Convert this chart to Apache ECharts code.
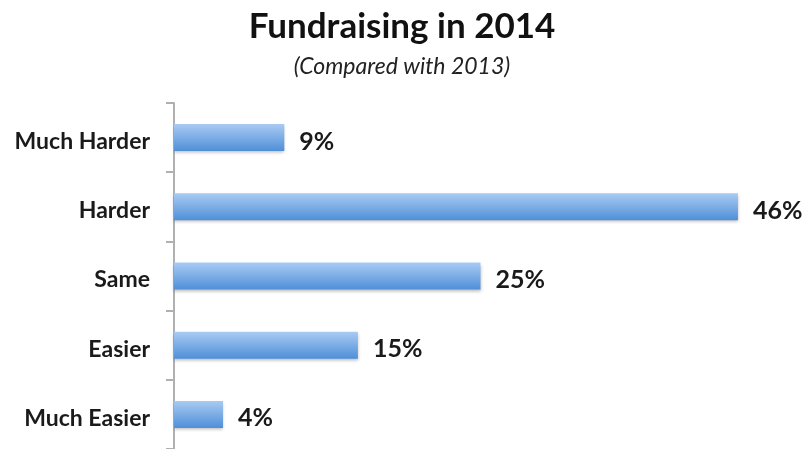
<!DOCTYPE html>
<html>
<head>
<meta charset="utf-8">
<script src="https://cdn.jsdelivr.net/npm/echarts@6/dist/echarts.min.js"></script>
<style>
  html, body { margin: 0; padding: 0; background: #fff; }
  #chart { width: 804px; height: 449px; }
</style>
</head>
<body>
<div id="chart"></div>
<script>
// Survey answers, listed top to bottom
const categories = ['Much Harder', 'Harder', 'Same', 'Easier', 'Much Easier'];
const percentValues = [9, 46, 25, 15, 4];

const chart = echarts.init(document.getElementById('chart'));
const font = 'Lato, "Open Sans", sans-serif';

chart.setOption({
  backgroundColor: '#ffffff',
  animation: false,
  title: [
    {
      text: 'Fundraising in 2014',
      left: 'center',
      top: 4,
      textStyle: { fontFamily: font, fontSize: 35, fontWeight: 'bold', color: '#111' }
    },
    {
      text: '(Compared with 2013)',
      left: 'center',
      top: 50,
      textStyle: { fontFamily: font, fontSize: 23, fontStyle: 'italic', fontWeight: 'normal', color: '#222' }
    }
  ],
  grid: { left: 174, right: 17, top: 103, bottom: 0, containLabel: false },
  xAxis: {
    type: 'value',
    min: 0,
    max: 50,
    show: false
  },
  yAxis: {
    type: 'category',
    data: categories,
    inverse: true,
    axisLine: { show: true, lineStyle: { color: '#b0b0b0', width: 2 } },
    axisTick: { show: true, length: 8, lineStyle: { color: '#b0b0b0', width: 2 } },
    axisLabel: {
      margin: 24,
      formatter: '{c|{value}}',
      rich: {
        c: {
          fontFamily: font,
          fontSize: 23,
          fontWeight: 'bold',
          color: '#1a1a1a',
          padding: [8, 0, 0, 0]
        }
      }
    },
    splitLine: { show: false }
  },
  series: [{
    type: 'bar',
    data: percentValues,
    barWidth: 27,
    itemStyle: {
      color: new echarts.graphic.LinearGradient(0, 0, 0, 1, [
        { offset: 0, color: '#a9cbf3' },
        { offset: 1, color: '#4f8fd8' }
      ]),
      shadowColor: 'rgba(0,0,0,0.25)',
      shadowBlur: 3,
      shadowOffsetY: 2
    },
    label: {
      show: true,
      position: 'right',
      distance: 15,
      offset: [0, 4],
      formatter: '{c}%',
      fontFamily: font,
      fontSize: 25,
      fontWeight: 'bold',
      color: '#1a1a1a'
    }
  }]
});
</script>
</body>
</html>
